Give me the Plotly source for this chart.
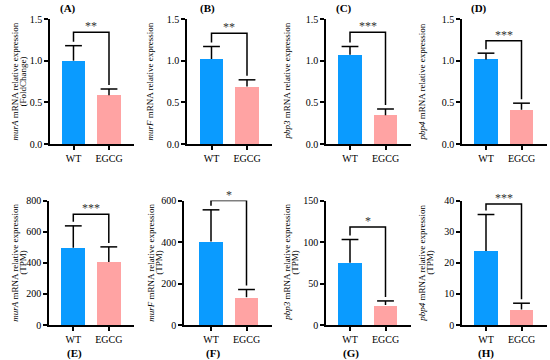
import plotly.graph_objects as go

# ---------------- data ----------------
groups = ["WT", "EGCG"]
panel_labels = ["(A)", "(B)", "(C)", "(D)", "(E)", "(F)", "(G)", "(H)"]
genes = ["murA", "murF", "pbp3", "pbp4", "murA", "murF", "pbp3", "pbp4"]
units = ["(FoldChange)", "", "", "", "(TPM)", "(TPM)", "(TPM)", "(TPM)"]

means_A = [1.00, 0.585]
errs_A = [0.18, 0.075]
means_B = [1.02, 0.69]
errs_B = [0.15, 0.08]
means_C = [1.07, 0.345]
errs_C = [0.10, 0.075]
means_D = [1.015, 0.41]
errs_D = [0.075, 0.08]
means_E = [497, 405]
errs_E = [140, 97]
means_F = [402, 134]
errs_F = [153, 37]
means_G = [75, 24]
errs_G = [28, 5]
means_H = [23.8, 5.0]
errs_H = [11.7, 2.0]

means = [means_A, means_B, means_C, means_D, means_E, means_F, means_G, means_H]
errs = [errs_A, errs_B, errs_C, errs_D, errs_E, errs_F, errs_G, errs_H]
bracket_levels = [1.34, 1.33, 1.34, 1.24, 712, 600, 118, 38.9]
stars = ["**", "**", "***", "***", "***", "*", "*", "***"]

y_max = [1.5, 1.5, 1.5, 1.5, 800, 600, 150, 40]
y_ticks = [
    [0.0, 0.5, 1.0, 1.5], [0.0, 0.5, 1.0, 1.5], [0.0, 0.5, 1.0, 1.5], [0.0, 0.5, 1.0, 1.5],
    [0, 200, 400, 600, 800], [0, 200, 400, 600], [0, 50, 100, 150], [0, 10, 20, 30, 40],
]
y_ticktext = [
    ["0.0", "0.5", "1.0", "1.5"], ["0.0", "0.5", "1.0", "1.5"],
    ["0.0", "0.5", "1.0", "1.5"], ["0.0", "0.5", "1.0", "1.5"],
    ["0", "200", "400", "600", "800"], ["0", "200", "400", "600"],
    ["0", "50", "100", "150"], ["0", "10", "20", "30", "40"],
]

colors = ["#0A9BFF", "#FFA3A3"]

# ---------------- layout (pixels) ----------------
W, H = 550, 360
axis_left = [50, 187, 326, 462, 49, 184, 326, 462]
wt_center = [73.5, 211.5, 350, 486, 73.3, 211, 350, 486]
spacing = 35.5
row_top = [19, 19, 19, 19, 200.5, 200.5, 200.5, 200.5]
row_bottom = [144, 144, 144, 144, 325, 325, 325, 325]
title_x1 = [15, 150, 287, 422, 15, 151, 287, 422]
title_x2 = [23, None, None, None, 23, 159, 295, 430]
label_pos = [(68, 8), (207, 8), (344, 8), (479, 8), (74, 353), (213, 353), (351, 353), (486, 353)]

FONT = "Liberation Serif"

fig = go.Figure()
annotations = []

for i in range(8):
    n = i + 1
    xa = "x" if n == 1 else f"x{n}"
    ya = "y" if n == 1 else f"y{n}"
    xkey = "xaxis" if n == 1 else f"xaxis{n}"
    ykey = "yaxis" if n == 1 else f"yaxis{n}"

    egcg_center = wt_center[i] + spacing
    axis_right = egcg_center + 25
    x_lo = -(wt_center[i] - axis_left[i]) / spacing
    x_hi = 1 + (axis_right - egcg_center) / spacing

    m = means[i]
    e = errs[i]
    ppu = (row_bottom[i] - row_top[i]) / y_max[i]  # pixels per unit

    fig.add_trace(go.Bar(
        x=groups, y=m, marker=dict(color=colors, line=dict(width=0)),
        width=0.67, xaxis=xa, yaxis=ya, showlegend=False, hoverinfo="skip",
    ))
    ex, ey = [], []
    for g, mv, ev in zip(groups, m, e):
        ex += [g, g, None]
        ey += [mv, mv + ev, None]
    fig.add_trace(go.Scatter(
        x=ex, y=ey, mode="lines", line=dict(color="black", width=1.5),
        xaxis=xa, yaxis=ya, showlegend=False, hoverinfo="skip", cliponaxis=False,
    ))
    fig.add_trace(go.Scatter(
        x=groups, y=[mv + ev for mv, ev in zip(m, e)], mode="markers",
        marker=dict(symbol="line-ew", size=12, line=dict(color="black", width=1.5)),
        xaxis=xa, yaxis=ya, showlegend=False, hoverinfo="skip", cliponaxis=False,
    ))
    gap = 4 / ppu
    b = bracket_levels[i]
    fig.add_trace(go.Scatter(
        x=[groups[0], groups[0], groups[1], groups[1]],
        y=[m[0] + e[0] + gap, b, b, m[1] + e[1] + gap],
        mode="lines", line=dict(color="black", width=1.5),
        xaxis=xa, yaxis=ya, showlegend=False, hoverinfo="skip", cliponaxis=False,
    ))
    annotations.append(dict(
        x=0.5, y=b, xref=xa, yref=ya, text=stars[i], showarrow=False,
        yanchor="bottom", yshift=-3, font=dict(family=FONT, size=12, color="#333"),
    ))

    fig.update_layout(**{
        xkey: dict(
            domain=[axis_left[i] / W, axis_right / W], anchor=ya,
            type="category", range=[x_lo, x_hi], automargin=False,
            showline=True, linecolor="black", linewidth=1.5,
            ticks="outside", ticklen=4, tickwidth=1.5, tickcolor="black",
            showgrid=False, zeroline=False,
            tickfont=dict(family=FONT, size=10, color="black"),
            fixedrange=True,
        ),
        ykey: dict(
            domain=[1 - row_bottom[i] / H, 1 - row_top[i] / H], anchor=xa,
            range=[0, y_max[i]], tickvals=y_ticks[i], ticktext=y_ticktext[i],
            automargin=False,
            showline=True, linecolor="black", linewidth=1.5,
            ticks="outside", ticklen=4, tickwidth=1.5, tickcolor="black",
            showgrid=False, zeroline=False,
            tickfont=dict(family=FONT, size=10, color="black"),
            fixedrange=True,
        ),
    })

    ymid = 1 - (row_top[i] + row_bottom[i]) / 2 / H
    annotations.append(dict(
        x=title_x1[i] / W, y=ymid, xref="paper", yref="paper",
        text=f"<i>{genes[i]}</i> mRNA relative expression", textangle=-90,
        showarrow=False, xanchor="center", yanchor="middle",
        font=dict(family=FONT, size=9, color="black"),
    ))
    if units[i]:
        annotations.append(dict(
            x=title_x2[i] / W, y=ymid, xref="paper", yref="paper",
            text=units[i], textangle=-90,
            showarrow=False, xanchor="center", yanchor="middle",
            font=dict(family=FONT, size=9, color="black"),
        ))
    lx, ly = label_pos[i]
    annotations.append(dict(
        x=lx / W, y=1 - ly / H, xref="paper", yref="paper",
        text=f"<b>{panel_labels[i]}</b>", showarrow=False,
        xanchor="center", yanchor="middle",
        font=dict(family=FONT, size=11, color="black"),
    ))

fig.update_layout(
    template="none",
    width=W, height=H, margin=dict(l=0, r=0, t=0, b=0, pad=0, autoexpand=False),
    paper_bgcolor="white", plot_bgcolor="white",
    font=dict(family=FONT),
    annotations=annotations, bargap=0,
)

fig.write_html(
    "out.html",
    config={"displayModeBar": False},
    post_script="document.body.style.margin='0';document.body.style.padding='0';",
)
